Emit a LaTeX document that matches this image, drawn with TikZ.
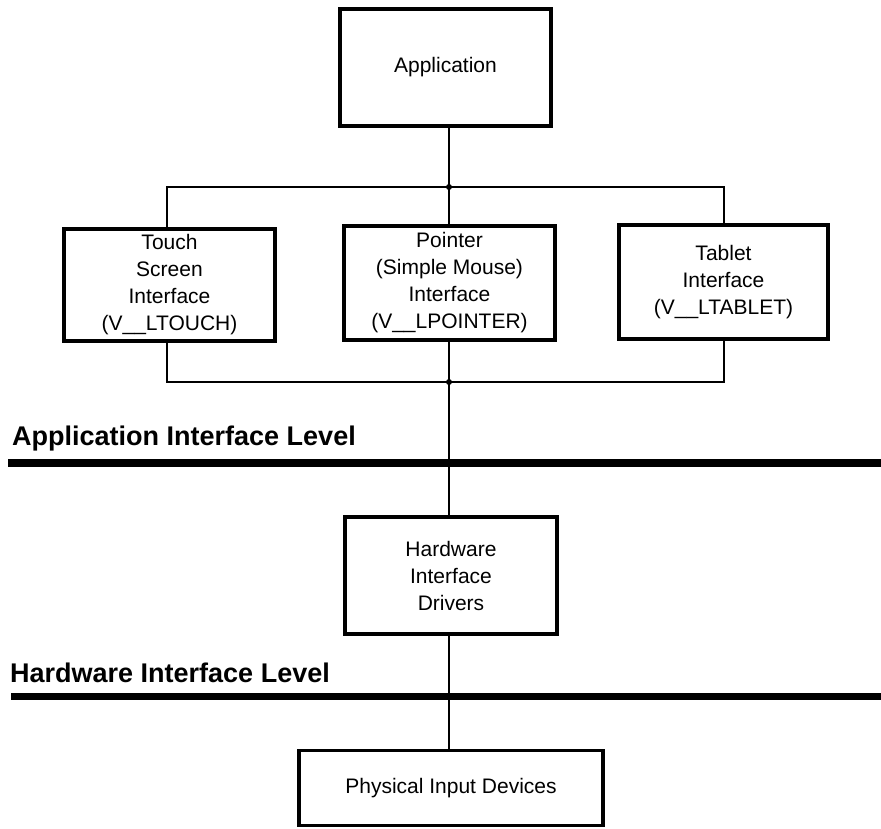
\documentclass[tikz,border=0pt]{standalone}
\usepackage{fontspec}
\setmainfont{Liberation Sans}
\begin{document}
\begin{tikzpicture}[x=1pt,y=-1pt,
  box/.style={draw,line width=4pt,inner sep=0pt,align=center,
    font=\fontsize{21}{27}\selectfont},
  wire/.style={line width=2pt},
  level/.style={line width=8pt},
  levellabel/.style={anchor=base west,inner sep=0pt,
    font=\fontsize{27}{30}\selectfont\bfseries},
  junction/.style={circle,fill,inner sep=0pt,minimum size=6pt}]
\path[use as bounding box] (0,0) rectangle (881,828);

% boxes
\node[box,minimum width=211pt,minimum height=117pt] (app) at (445.5,67.5) {Application};
\node[box,minimum width=211pt,minimum height=112pt] (touch) at (169.5,285) {Touch\\Screen\\Interface\\(V\_\_LTOUCH)};
\node[box,minimum width=211pt,minimum height=114pt] (pointer) at (449.5,283) {Pointer\\(Simple Mouse)\\Interface\\(V\_\_LPOINTER)};
\node[box,minimum width=209pt,minimum height=114pt] (tablet) at (723.5,282) {Tablet\\Interface\\(V\_\_LTABLET)};
\node[box,minimum width=212pt,minimum height=117pt] (hw) at (451,575.5) {Hardware\\Interface\\Drivers};
\node[box,line width=3.5pt,minimum width=304pt,minimum height=75pt] (phys) at (451,788) {Physical Input Devices};

% bus corners and the vertical spine
\coordinate (spine) at (449,0);
\coordinate (tl) at (167,187);
\coordinate (tr) at (724,187);
\coordinate (bl) at (167,382);
\coordinate (br) at (724,382);
\coordinate (jtop) at (449,187);
\coordinate (jbot) at (449,382);

% level bars
\coordinate (aL) at (8,463);
\coordinate (aR) at (881,463);
\coordinate (hL) at (11,696);
\coordinate (hR) at (881,696);
\draw[level] (aL) -- (aR);
\draw[level,line width=7pt] (hL) -- (hR);
\node[levellabel] (alabel) at (12,445) {Application Interface Level};
\node[levellabel] (hlabel) at (10,682) {Hardware Interface Level};

% connectors
\draw[wire] (app.south -| spine) -- (jtop);
\draw[wire] (touch.north -| tl) -- (tl) -- (tr) -- (tablet.north -| tr);
\draw[wire] (jtop) -- (pointer.north -| spine);
\draw[wire] (touch.south -| bl) -- (bl) -- (br) -- (tablet.south -| br);
\draw[wire] (pointer.south -| spine) -- (hw.north -| spine);
\draw[wire] (hw.south -| spine) -- (phys.north -| spine);

% junction dots
\node[junction] (d1) at (jtop) {};
\node[junction] (d2) at (jbot) {};
\node[junction] (d3) at (449,463) {};
\node[junction] (d4) at (449,696) {};
\end{tikzpicture}
\end{document}
